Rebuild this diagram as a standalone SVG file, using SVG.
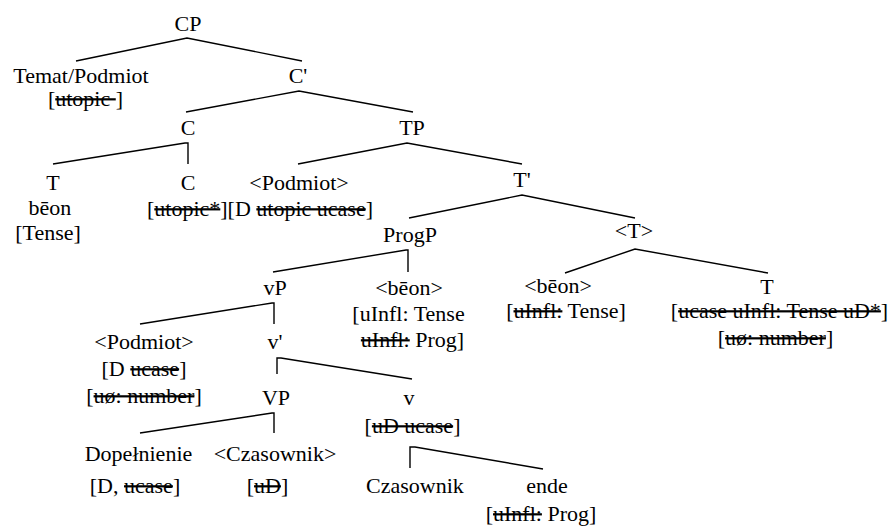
<svg xmlns="http://www.w3.org/2000/svg" width="894" height="527" viewBox="0 0 894 527">
<style>
text{font-family:"Times New Roman",Tinos,"Liberation Serif","DejaVu Serif","Noto Serif",FreeSerif,serif;font-size:22px;fill:#000;text-anchor:middle}
.s{text-decoration:line-through}
#connectors polyline{fill:none;stroke:#000;stroke-width:1.4}
</style>
<rect width="894" height="527" fill="#fff"/>
<g id="connectors">
<polyline points="76,61 187,38 302,61"/>
<polyline points="186,112 299,91 413,112"/>
<polyline points="53,164 185,143 188,143 188,164"/>
<polyline points="298,164 407,143 522,164"/>
<polyline points="409,218 522,195 635,218"/>
<polyline points="565,273 635,249 768,273"/>
<polyline points="273,272 406,250 408,250 408,272"/>
<polyline points="140,324 272,303 274,303 274,324"/>
<polyline points="277,374 277,358 281,358 412,379"/>
<polyline points="140,433 272,413 274,413 274,433"/>
<polyline points="410,468 410,447 415,447 543,469"/>
</g>
<g id="n-CP"><text x="188" y="31">CP</text></g>
<g id="n-Temat"><text x="81" y="83">Temat/Podmiot</text><text x="85.5" y="106">[<tspan class="s">utopic </tspan>]</text></g>
<g id="n-Cbar"><text x="298" y="83">C'</text></g>
<g id="n-C1"><text x="188" y="135">C</text></g>
<g id="n-TP"><text x="412" y="135">TP</text></g>
<g id="n-T1"><text x="53" y="190">T</text><text x="50" y="215">bēon</text><text x="48" y="240">[Tense]</text></g>
<g id="n-C2"><text x="188" y="190">C</text></g>
<g id="n-feat1"><text x="260" y="216">[<tspan class="s">utopic*</tspan>][D <tspan class="s">utopic ucase</tspan>]</text></g>
<g id="n-Podmiot1"><text x="299" y="190">&lt;Podmiot&gt;</text></g>
<g id="n-Tbar"><text x="522" y="187">T'</text></g>
<g id="n-ProgP"><text x="410" y="242">ProgP</text></g>
<g id="n-Tangle"><text x="634" y="238">&lt;T&gt;</text></g>
<g id="n-beon2"><text x="558" y="293">&lt;bēon&gt;</text><text x="566" y="318">[<tspan class="s">uInfl:</tspan> Tense]</text></g>
<g id="n-T2"><text x="767" y="294">T</text><text x="779.5" y="318">[<tspan class="s">ucase uInfl: Tense uD*</tspan>]</text><text x="775.5" y="345">[<tspan class="s">uø: number</tspan>]</text></g>
<g id="n-vP"><text x="275" y="295">vP</text></g>
<g id="n-beon1"><text x="409" y="295">&lt;bēon&gt;</text><text x="408.5" y="321">[uInfl: Tense</text><text x="412.5" y="347"><tspan class="s">uInfl:</tspan> Prog]</text></g>
<g id="n-Podmiot2"><text x="144" y="349">&lt;Podmiot&gt;</text><text x="144" y="376">[D <tspan class="s">ucase</tspan>]</text><text x="144" y="403">[<tspan class="s">uø: number</tspan>]</text></g>
<g id="n-vbar"><text x="275" y="349">v'</text></g>
<g id="n-VP"><text x="276" y="405">VP</text></g>
<g id="n-v"><text x="409" y="405">v</text><text x="412.5" y="433">[<tspan class="s">uD ucase</tspan>]</text></g>
<g id="n-Dop"><text x="138.5" y="461">Dopełnienie</text><text x="135" y="493">[D, <tspan class="s">ucase</tspan>]</text></g>
<g id="n-Czas1"><text x="275" y="461">&lt;Czasownik&gt;</text><text x="267.5" y="493">[<tspan class="s">uD</tspan>]</text></g>
<g id="n-Czas2"><text x="415" y="493">Czasownik</text></g>
<g id="n-ende"><text x="547" y="493">ende</text><text x="541" y="521">[<tspan class="s">uInfl:</tspan> Prog]</text></g>
</svg>
